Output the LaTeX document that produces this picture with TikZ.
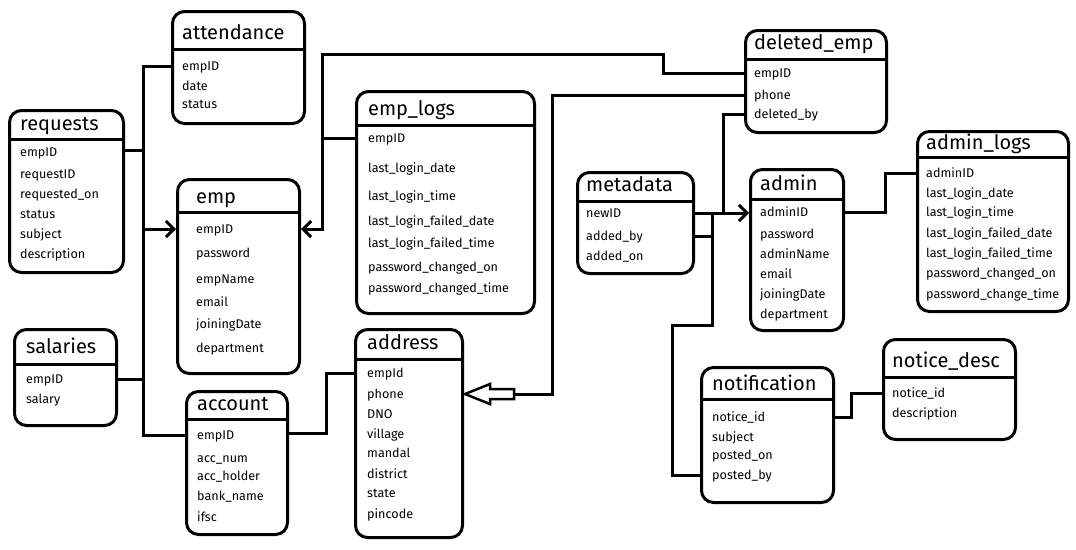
\documentclass[tikz,border=0pt]{standalone}
\usepackage{fontspec}
\setmainfont{Fira Sans}
\usetikzlibrary{arrows.meta}

\tikzset{
  tbl/.style={draw, line width=3pt, rounded corners=12pt, anchor=north west, inner sep=0pt},
  hdr/.style={line width=3pt},
  ttl/.style={anchor=west, inner sep=0pt, font=\fontsize{20}{22}\selectfont, text height=14pt, text depth=0pt},
  fld/.style={anchor=west, inner sep=0pt, font=\fontsize{12.6}{14}\selectfont, text height=9pt, text depth=0pt},
  conn/.style={line width=3pt, line join=miter},
  barb/.style={-{Straight Barb[length=8pt,width=16pt]}},
  hollow/.style={line width=2.5pt, line join=miter}
}

\begin{document}
\begin{tikzpicture}[x=1pt, y=-1pt]
\fill[white] (0,0) rectangle (1076,549);
\useasboundingbox (0,0) rectangle (1076,549);

% attendance
\node[tbl, minimum width=132pt, minimum height=112pt] (attendance) at (171,10) {};
\draw[hdr] (attendance.west |- 0,49) -- (attendance.east |- 0,49);
\node[ttl] (attendance-t) at (182,32) {attendance};
\foreach \f/\yy [count=\i] in {empID/66, date/86, status/104}
  \node[fld] (attendance-\i) at (182,\yy) {\f};

% requests
\node[tbl, minimum width=114pt, minimum height=162pt] (requests) at (8,109) {};
\draw[hdr] (requests.west |- 0,139) -- (requests.east |- 0,139);
\node[ttl] (requests-t) at (20,123) {requests};
\foreach \f/\yy [count=\i] in {empID/152, requestID/174, requested\_on/194, status/214, subject/234, description/254}
  \node[fld] (requests-\i) at (20,\yy) {\f};

% emp
\node[tbl, minimum width=122pt, minimum height=194pt] (emp) at (176,178) {};
\draw[hdr] (emp.west |- 0,212) -- (emp.east |- 0,212);
\node[ttl] (emp-t) at (196,196) {emp};
\foreach \f/\yy [count=\i] in {empID/229, password/253, empName/279, email/302, joiningDate/324, department/348}
  \node[fld] (emp-\i) at (196,\yy) {\f};

% salaries
\node[tbl, minimum width=102pt, minimum height=96pt] (salaries) at (13,328) {};
\draw[hdr] (salaries.west |- 0,364) -- (salaries.east |- 0,364);
\node[ttl] (salaries-t) at (26,346) {salaries};
\foreach \f/\yy [count=\i] in {empID/379, salary/399}
  \node[fld] (salaries-\i) at (26,\yy) {\f};

% account
\node[tbl, minimum width=101pt, minimum height=143pt] (account) at (185,390) {};
\draw[hdr] (account.west |- 0,419) -- (account.east |- 0,419);
\node[ttl] (account-t) at (197,403) {account};
\foreach \f/\yy [count=\i] in {empID/435, acc\_num/458, acc\_holder/476, bank\_name/496, ifsc/517}
  \node[fld] (account-\i) at (197,\yy) {\f};

% emp_logs
\node[tbl, minimum width=178pt, minimum height=222pt] (emplogs) at (355,90) {};
\draw[hdr] (emplogs.west |- 0,125) -- (emplogs.east |- 0,125);
\node[ttl] (emplogs-t) at (368,108) {emp\_logs};
\foreach \f/\yy [count=\i] in {empID/138, last\_login\_date/168, last\_login\_time/196, last\_login\_failed\_date/221, last\_login\_failed\_time/243, password\_changed\_on/267, password\_changed\_time/288}
  \node[fld] (emplogs-\i) at (368,\yy) {\f};

% address
\node[tbl, minimum width=107pt, minimum height=208pt] (address) at (354,328) {};
\draw[hdr] (address.west |- 0,359) -- (address.east |- 0,359);
\node[ttl] (address-t) at (367,342) {address};
\foreach \f/\yy [count=\i] in {empId/373, phone/394, DNO/414, village/434, mandal/453, district/474, state/493, pincode/514}
  \node[fld] (address-\i) at (367,\yy) {\f};

% metadata
\node[tbl, minimum width=116pt, minimum height=101pt] (metadata) at (576,171) {};
\draw[hdr] (metadata.west |- 0,201) -- (metadata.east |- 0,201);
\node[ttl] (metadata-t) at (586,184) {metadata};
\foreach \f/\yy [count=\i] in {newID/213, added\_by/236, added\_on/256}
  \node[fld] (metadata-\i) at (586,\yy) {\f};

% deleted_emp
\node[tbl, minimum width=141pt, minimum height=102pt] (delemp) at (744,29) {};
\draw[hdr] (delemp.west |- 0,59) -- (delemp.east |- 0,59);
\node[ttl] (delemp-t) at (754,42) {deleted\_emp};
\foreach \f/\yy [count=\i] in {empID/73, phone/95, deleted\_by/114}
  \node[fld] (delemp-\i) at (754,\yy) {\f};

% admin
\node[tbl, minimum width=93pt, minimum height=161pt] (admin) at (749,168) {};
\draw[hdr] (admin.west |- 0,199) -- (admin.east |- 0,199);
\node[ttl] (admin-t) at (760,183) {admin};
\foreach \f/\yy [count=\i] in {adminID/212, password/234, adminName/254, email/274, joiningDate/294, department/314}
  \node[fld] (admin-\i) at (760,\yy) {\f};

% admin_logs
\node[tbl, minimum width=151pt, minimum height=180pt] (adminlogs) at (916,130) {};
\draw[hdr] (adminlogs.west |- 0,157) -- (adminlogs.east |- 0,157);
\node[ttl] (adminlogs-t) at (926,142) {admin\_logs};
\foreach \f/\yy [count=\i] in {adminID/173, last\_login\_date/193, last\_login\_time/212, last\_login\_failed\_date/233, last\_login\_failed\_time/253, password\_changed\_on/273, password\_change\_time/294}
  \node[fld] (adminlogs-\i) at (926,\yy) {\f};

% notification
\node[tbl, minimum width=132pt, minimum height=135pt] (notification) at (700,366) {};
\draw[hdr] (notification.west |- 0,399) -- (notification.east |- 0,399);
\node[ttl] (notification-t) at (712,383) {notification};
\foreach \f/\yy [count=\i] in {notice\_id/417, subject/437, posted\_on/455, posted\_by/475}
  \node[fld] (notification-\i) at (712,\yy) {\f};

% notice_desc
\node[tbl, minimum width=132pt, minimum height=100pt] (noticedesc) at (882,338) {};
\draw[hdr] (noticedesc.west |- 0,377) -- (noticedesc.east |- 0,377);
\node[ttl] (noticedesc-t) at (892,360) {notice\_desc};
\foreach \f/\yy [count=\i] in {notice\_id/393, description/413}
  \node[fld] (noticedesc-\i) at (892,\yy) {\f};

% bends of the connectors
\coordinate (bus) at (143,0);
\coordinate (logbus) at (322,54);
\coordinate (delbend) at (663,54);
\coordinate (accbend) at (326,0);
\coordinate (phbus) at (552,0);
\coordinate (delbus) at (723,0);
\coordinate (metabus) at (712,0);
\coordinate (notebend) at (672,325);
\coordinate (admbend) at (885,0);
\coordinate (ntbend) at (851,0);

% left group
\draw[conn] (attendance.west |- attendance-1) -| (bus |- account-1) -- (account.west |- account-1);
\draw[conn] (requests.east |- 0,150) -- (bus |- 0,150);
\draw[conn] (salaries.east |- salaries-1) -- (bus |- salaries-1);
\draw[conn, barb] (bus |- emp-1) -- (emp.west |- emp-1);
\draw[conn] (account.east |- 0,433) -| (accbend |- address-1) -- (address.west |- address-1);

% deleted_emp and emp_logs
\draw[conn, barb] (delemp.west |- delemp-1) -| (delbend) -- (logbus) |- (emp.east |- emp-1);
\draw[conn] (emplogs.west |- emplogs-1) -- (logbus |- emplogs-1);
\draw[conn] (delemp.west |- delemp-2) -| (phbus |- address-2) -- ([xshift=50pt]address.east |- address-2);
\draw[hollow] ([xshift=1pt]address.east |- address-2) -- ++(25,-10) -- ++(0,5) -- ++(24,0) -- ++(0,10) -- ++(-24,0) -- ++(0,5) -- cycle;

% metadata, admin, notification
\draw[conn, barb] (metadata.east |- metadata-1) -- (admin.west |- metadata-1);
\draw[conn] (delemp.west |- delemp-3) -| (delbus |- metadata-1);
\draw[conn] (metadata.east |- metadata-2) -- (metabus |- metadata-2);
\draw[conn] (metabus |- metadata-1) |- (notebend) |- (notification.west |- notification-4);
\draw[conn] (admin.east |- admin-1) -| (admbend |- adminlogs-1) -- (adminlogs.west |- adminlogs-1);
\draw[conn] (notification.east |- notification-1) -| (ntbend |- noticedesc-1) -- (noticedesc.west |- noticedesc-1);
\end{tikzpicture}
\end{document}
